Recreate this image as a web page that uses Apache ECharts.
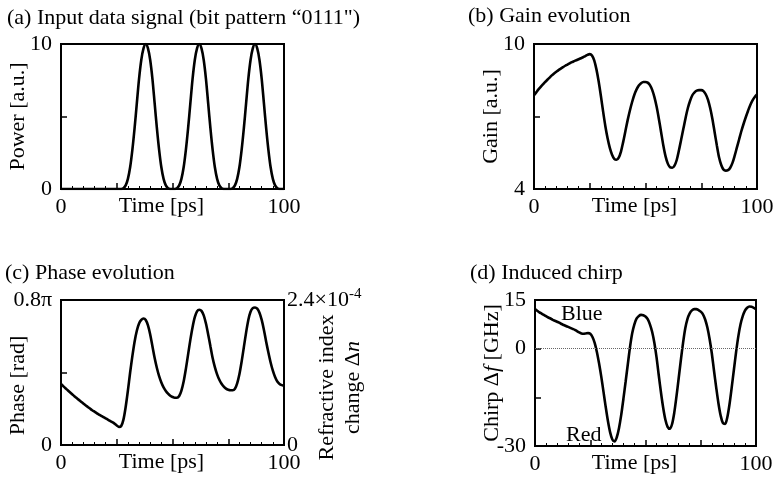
<!DOCTYPE html>
<html>
<head>
<meta charset="utf-8">
<script src="https://cdn.jsdelivr.net/npm/echarts@6/dist/echarts.min.js"></script>
<style>
  html, body { margin: 0; padding: 0; background: #fff; }
  #chart { width: 782px; height: 484px; }
</style>
</head>
<body>
<div id="chart"></div>
<script>
// Sample times [ps], 1 ps step
const timePs = Array.from({ length: 101 }, (_, i) => i);

// (a) input optical power [a.u.]
const powerAU = [
  0, 0, 0, 0, 0, 0, 0, 0, 0, 0,
  0, 0, 0, 0, 0, 0, 0, 0, 0, 0,
  0, 0, 0, 0, 0, 0, 0, 0, 0.05, 0.25,
  0.7, 1.5, 2.7, 4.2, 5.9, 7.6, 8.9, 9.7, 10, 9.7,
  8.9, 7.6, 5.9, 4.2, 2.7, 1.5, 0.7, 0.25, 0.05, 0,
  0, 0, 0.05, 0.25, 0.7, 1.5, 2.7, 4.2, 5.9, 7.6,
  8.9, 9.7, 10, 9.7, 8.9, 7.6, 5.9, 4.2, 2.7, 1.5,
  0.7, 0.25, 0.05, 0, 0, 0, 0, 0.05, 0.25, 0.7,
  1.5, 2.7, 4.2, 5.9, 7.6, 8.9, 9.7, 10, 9.7, 8.9,
  7.6, 5.9, 4.2, 2.7, 1.5, 0.7, 0.25, 0.05, 0, 0,
  0
];

// (b) gain [a.u.]
const gainAU = [
  7.88, 8.0, 8.12, 8.23, 8.33, 8.43, 8.52, 8.61, 8.70, 8.78,
  8.85, 8.92, 8.98, 9.04, 9.10, 9.15, 9.20, 9.25, 9.29, 9.33,
  9.37, 9.41, 9.45, 9.50, 9.55, 9.58, 9.52, 9.32, 8.95, 8.45,
  7.85, 7.2, 6.6, 6.1, 5.7, 5.42, 5.25, 5.21, 5.3, 5.55,
  5.95, 6.4, 6.85, 7.25, 7.6, 7.9, 8.12, 8.28, 8.38, 8.43,
  8.43, 8.4, 8.3, 8.1, 7.8, 7.4, 6.9, 6.35, 5.8, 5.35,
  5.05, 4.9, 4.88, 4.97, 5.2, 5.6, 6.05, 6.5, 6.95, 7.35,
  7.65, 7.88, 8.0, 8.07, 8.09, 8.09, 8.05, 7.92, 7.7, 7.35,
  6.9, 6.35, 5.8, 5.3, 4.98, 4.8, 4.76, 4.78, 4.88, 5.08,
  5.38, 5.72, 6.06, 6.4, 6.7, 6.98, 7.24, 7.48, 7.67, 7.81,
  7.91
];

// (c) phase [units of pi]
const phasePi = [
  0.336, 0.325, 0.313, 0.302, 0.291, 0.280, 0.269, 0.259, 0.249, 0.239,
  0.229, 0.219, 0.210, 0.201, 0.192, 0.184, 0.176, 0.168, 0.161, 0.154,
  0.147, 0.140, 0.133, 0.126, 0.118, 0.108, 0.100, 0.105, 0.14, 0.21,
  0.30, 0.40, 0.49, 0.57, 0.63, 0.67, 0.69, 0.698, 0.69, 0.66,
  0.61, 0.545, 0.48, 0.425, 0.38, 0.345, 0.318, 0.298, 0.283, 0.272,
  0.265, 0.261, 0.261, 0.27, 0.30, 0.35, 0.42, 0.50, 0.58, 0.65,
  0.705, 0.737, 0.746, 0.74, 0.715, 0.67, 0.61, 0.545, 0.48, 0.43,
  0.39, 0.36, 0.338, 0.322, 0.311, 0.305, 0.302, 0.302, 0.31, 0.34,
  0.39, 0.46, 0.54, 0.62, 0.69, 0.735, 0.755, 0.759, 0.752, 0.73,
  0.69, 0.635, 0.57, 0.51, 0.455, 0.41, 0.375, 0.35, 0.337, 0.33,
  0.326
];

// (d) chirp [GHz]
const chirpGHz = [
  12.2, 11.7, 11.2, 10.8, 10.4, 10.0, 9.6, 9.3, 8.9, 8.6,
  8.3, 8.0, 7.6, 7.3, 7.0, 6.7, 6.4, 6.1, 5.8, 5.4,
  5.0, 4.7, 4.6, 4.7, 4.8, 4.6, 3.6, 1.8, -1.0, -4.6,
  -8.7, -13.3, -18.0, -22.3, -25.8, -28.0, -28.6, -27.3, -24.5, -20.5,
  -15.5, -10.2, -4.8, 0.5, 4.8, 7.6, 9.3, 10.1, 10.4, 10.3,
  9.9, 9.1, 7.5, 5.2, 1.8, -2.7, -8.2, -13.5, -18.2, -21.9,
  -24.1, -24.7, -23.3, -19.8, -14.8, -9.2, -3.5, 1.8, 6.3, 9.2,
  10.9, 11.8, 12.2, 12.2, 11.9, 11.4, 10.6, 9.0, 6.5, 3.0,
  -1.4, -6.8, -12.0, -16.8, -20.6, -22.9, -23.2, -21.2, -17.2, -12.0,
  -6.5, -1.0, 3.8, 7.5, 10.0, 11.7, 12.6, 13.0, 12.9, 12.6,
  12.2
];

const panelTitles = [
  '(a) Input data signal (bit pattern \u201c0111")',
  '(b) Gain evolution',
  '(c) Phase evolution',
  '(d) Induced chirp'
];

const FONT = '"Liberation Serif", "Times New Roman", Times, serif';
const FS = 22;
const BLACK = '#000';

const pairs = (vals) => timePs.map((t, i) => [t, vals[i]]);

const grids = [
  { left: 61, top: 44, width: 223, height: 145 },
  { left: 534, top: 44, width: 223, height: 145 },
  { left: 61, top: 300, width: 223, height: 145 },
  { left: 535, top: 300, width: 221, height: 146 }
].map(g => Object.assign(g, { show: true, borderColor: BLACK, borderWidth: 2, containLabel: false }));

const baseText = { fontFamily: FONT, fontSize: FS, color: BLACK };

function timeAxis(gi) {
  return {
    type: 'value', gridIndex: gi, position: 'bottom', min: 0, max: 100, interval: 25,
    axisLine: { show: false, onZero: false },
    splitLine: { show: false },
    axisTick: { inside: true, length: 6, lineStyle: { color: BLACK, width: 1.5 } },
    minorTick: { show: true, splitNumber: 5, length: 3, lineStyle: { color: BLACK, width: 1 } },
    axisLabel: Object.assign({}, baseText, {
      margin: 7,
      formatter: v => (v === 0 || v === 100) ? String(v) : ''
    }),
    name: 'Time [ps]', nameLocation: 'middle', nameGap: 6, nameMoveOverlap: false,
    nameTextStyle: Object.assign({}, baseText, { padding: [0, 22, 0, 0] })
  };
}

function valueAxis(gi, min, max, interval, labels, name, extra) {
  return Object.assign({
    type: 'value', gridIndex: gi, min, max, interval,
    axisLine: { show: false, onZero: false },
    splitLine: { show: false },
    axisTick: { inside: true, length: 6, lineStyle: { color: BLACK, width: 1.5 } },
    axisLabel: Object.assign({}, baseText, {
      margin: 9,
      formatter: v => (labels[String(v)] !== undefined ? labels[String(v)] : '')
    }),
    name, nameLocation: 'middle', nameGap: 32, nameRotate: 90, nameMoveOverlap: false,
    nameTextStyle: Object.assign({}, baseText)
  }, extra || {});
}

const yAxes = [
  valueAxis(0, 0, 10, 5, { '0': '0', '10': '10' }, 'Power [a.u.]'),
  valueAxis(1, 4, 10, 3, { '4': '4', '10': '10' }, 'Gain [a.u.]'),
  valueAxis(2, 0, 0.8, 0.4, { '0': '0', '0.8': '0.8\u03c0' }, 'Phase [rad]', {
    nameTextStyle: Object.assign({}, baseText, { padding: [0, 26, 0, 0] })
  }),
  valueAxis(3, -30, 15, 15, { '-30': '-30', '0': '0', '15': '15' }, 'Chirp \u0394{i|f} [GHz]', {
    nameTextStyle: Object.assign({}, baseText, {
      rich: { i: { fontFamily: FONT, fontSize: FS, fontStyle: 'italic', color: BLACK } }
    })
  }),
  // refractive-index scale sharing panel (c)
  {
    type: 'value', gridIndex: 2, position: 'right', min: 0, max: 2.4, interval: 2.4,
    axisLine: { show: false, onZero: false }, axisTick: { show: false }, splitLine: { show: false },
    axisLabel: Object.assign({}, baseText, {
      margin: 3,
      formatter: v => v === 0 ? '0' : (v === 2.4 ? '2.4\u00d710{sup|-4}' : ''),
      rich: {
        sup: { fontFamily: FONT, fontSize: 15, color: BLACK, verticalAlign: 'top', padding: [0, 0, 12, 0] }
      }
    }),
    name: 'Refractive index\nchange \u0394{i|n}', nameLocation: 'middle', nameRotate: 90, nameGap: 30,
    nameMoveOverlap: false,
    nameTextStyle: Object.assign({}, baseText, {
      lineHeight: 26, padding: [0, 30, 0, 0],
      rich: { i: { fontFamily: FONT, fontSize: FS, fontStyle: 'italic', color: BLACK, lineHeight: 26 } }
    })
  }
];

const lineStyle = { color: BLACK, width: 2.6 };
function curve(xi, yi, vals, extra) {
  return Object.assign({
    type: 'line', xAxisIndex: xi, yAxisIndex: yi, data: pairs(vals),
    showSymbol: false, symbol: 'none', smooth: 0.3, lineStyle, clip: true,
    animation: false, z: 3
  }, extra || {});
}

const option = {
  animation: false,
  backgroundColor: '#fff',
  title: [
    { text: panelTitles[0], left: 7, top: 7 },
    { text: panelTitles[1], left: 468, top: 5 },
    { text: panelTitles[2], left: 5, top: 262 },
    { text: panelTitles[3], left: 470, top: 262 }
  ].map(t => Object.assign(t, { padding: 0, textStyle: Object.assign({}, baseText, { fontWeight: 'normal' }) })),
  grid: grids,
  xAxis: [timeAxis(0), timeAxis(1), timeAxis(2), timeAxis(3)],
  yAxis: yAxes,
  series: [
    curve(0, 0, powerAU),
    curve(1, 1, gainAU),
    curve(2, 2, phasePi),
    curve(3, 3, chirpGHz, {
      markLine: {
        silent: true, symbol: 'none', animation: false,
        label: { show: false },
        lineStyle: { type: 'dotted', color: '#666', width: 1 },
        data: [{ yAxis: 0 }]
      }
    })
  ],
  graphic: [
    { type: 'text', left: 561, top: 303, style: Object.assign({ text: 'Blue', fill: BLACK, font: FS + 'px ' + FONT }) },
    { type: 'text', left: 566, top: 424, style: Object.assign({ text: 'Red', fill: BLACK, font: FS + 'px ' + FONT }) }
  ]
};

const chart = echarts.init(document.getElementById('chart'), null, { renderer: 'canvas' });
chart.setOption(option);
</script>
</body>
</html>
